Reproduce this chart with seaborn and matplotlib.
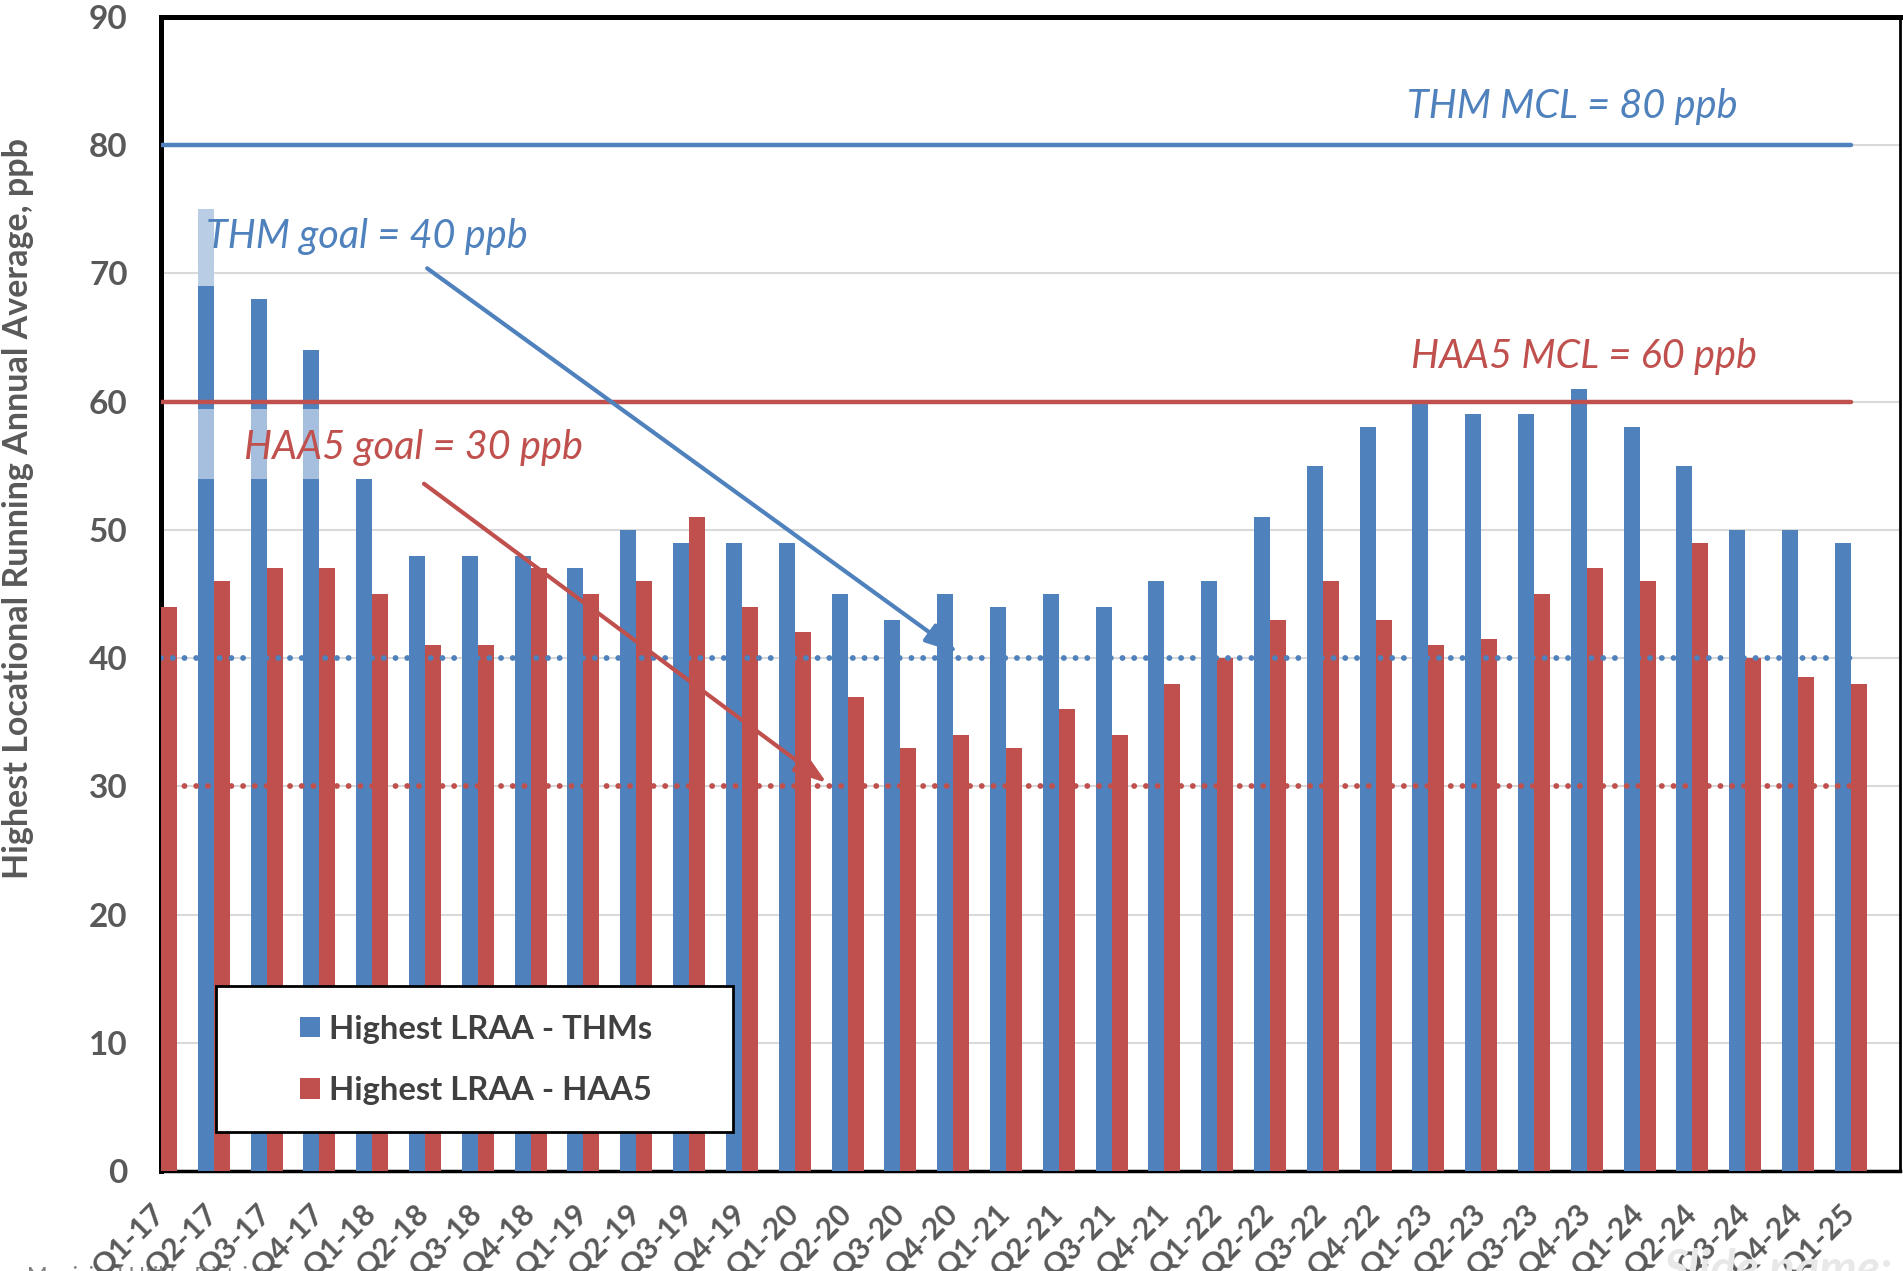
import numpy as np
import pandas as pd
import matplotlib
matplotlib.use("Agg")
import matplotlib.pyplot as plt
import seaborn as sns
from matplotlib.patches import Rectangle, Patch

# ---------------- data ----------------
quarters = ["Q1-17", "Q2-17", "Q3-17", "Q4-17",
            "Q1-18", "Q2-18", "Q3-18", "Q4-18",
            "Q1-19", "Q2-19", "Q3-19", "Q4-19",
            "Q1-20", "Q2-20", "Q3-20", "Q4-20",
            "Q1-21", "Q2-21", "Q3-21", "Q4-21",
            "Q1-22", "Q2-22", "Q3-22", "Q4-22",
            "Q1-23", "Q2-23", "Q3-23", "Q4-23",
            "Q1-24", "Q2-24", "Q3-24", "Q4-24",
            "Q1-25"]
thm = [np.nan, 69, 68, 64, 54, 48, 48, 48, 47, 50, 49, 49, 49, 45, 43, 45, 44,
       45, 44, 46, 46, 51, 55, 58, 60, 59, 59, 61, 58, 55, 50, 50, 49]
haa5 = [44, 46, 47, 47, 45, 41, 41, 47, 45, 46, 51, 44, 42, 37, 33, 34, 33,
        36, 34, 38, 40, 43, 46, 43, 41, 41.5, 45, 47, 46, 49, 40, 38.5, 38]
series_names = ["Highest LRAA - THMs", "Highest LRAA - HAA5"]

# faded (lighter) portions of THM bars seen in the original
thm_faded_top_q = ["Q2-17"]
thm_faded_top_lo = [69]
thm_faded_top_hi = [75]
thm_faded_band_q = ["Q2-17", "Q3-17", "Q4-17"]
thm_faded_band_lo = [54, 54, 54]
thm_faded_band_hi = [59.4, 59.4, 59.4]

thm_mcl, haa5_mcl = 80, 60
thm_goal, haa5_goal = 40, 30
yticks = [0, 10, 20, 30, 40, 50, 60, 70, 80, 90]

# ---------------- style ----------------
BLUE = "#4F81BD"
RED = "#C0504D"
GRAY = "#595959"
sns.set_style("white")
plt.rcParams["font.family"] = ["Lato", "DejaVu Sans"]

W, H = 1903, 1271
fig = plt.figure(figsize=(W / 100, H / 100), dpi=100)
ax = fig.add_axes([161 / W, 1 - 1171 / H, (1900 - 161) / W, (1171 - 17) / H])

df = pd.DataFrame({
    "Quarter": quarters * 2,
    "Series": [series_names[0]] * len(quarters) + [series_names[1]] * len(quarters),
    "Value": thm + haa5,
})
sns.barplot(data=df, x="Quarter", y="Value", hue="Series", order=quarters,
            hue_order=series_names, palette=[BLUE, RED], width=0.606, gap=0,
            dodge=True, saturation=1, errorbar=None, legend=False,
            linewidth=0, ax=ax, zorder=3)

# locate THM bars (blue) to overlay faded segments
blue_rgba = matplotlib.colors.to_rgba(BLUE)
blue_bars = {}
for p in ax.patches:
    if np.allclose(p.get_facecolor(), blue_rgba, atol=0.02) and p.get_height() > 0:
        idx = int(round(p.get_x() + p.get_width()))
        blue_bars[idx] = p

for q, lo, hi in zip(thm_faded_top_q, thm_faded_top_lo, thm_faded_top_hi):
    p = blue_bars[quarters.index(q)]
    ax.bar(p.get_x(), hi - lo, bottom=lo, width=p.get_width(), align="edge",
           color="#B9CDE5", linewidth=0, zorder=3)
for q, lo, hi in zip(thm_faded_band_q, thm_faded_band_lo, thm_faded_band_hi):
    p = blue_bars[quarters.index(q)]
    ax.bar(p.get_x(), hi - lo, bottom=lo, width=p.get_width(), align="edge",
           color="#A6BFDE", linewidth=0, zorder=3)

n = len(quarters)
# reference lines
ax.hlines(thm_mcl, 0, n - 1, color=BLUE, lw=3.2, zorder=5, capstyle="round")
ax.hlines(haa5_mcl, 0, n - 1, color=RED, lw=3.2, zorder=5, capstyle="round")
ax.plot([0, n - 1], [thm_goal] * 2, color=BLUE, lw=4.2, zorder=5,
        linestyle=(0, (0.01, 2.0)), dash_capstyle="round")
ax.plot([0, n - 1], [haa5_goal] * 2, color=RED, lw=4.2, zorder=5,
        linestyle=(0, (0.01, 2.0)), dash_capstyle="round")

# annotation texts
tkw = dict(style="italic", fontsize=28.5, ha="center", va="baseline", zorder=8)
ax.text(26.72, 82.1, "THM MCL = 80 ppb", color=BLUE, **tkw)
ax.text(26.95, 62.6, "HAA5 MCL = 60 ppb", color=RED, **tkw)
ax.text(3.90, 72.0, "THM goal = 40 ppb", color=BLUE, **tkw)
ax.text(4.79, 55.5, "HAA5 goal = 30 ppb", color=RED, **tkw)

# arrows
ax.annotate("", xy=(15.09, 40.4), xytext=(5.04, 70.4),
            arrowprops=dict(arrowstyle="-|>,head_length=0.9,head_width=0.3",
                            color=BLUE, lw=3.0, mutation_scale=22, shrinkA=0, shrinkB=0),
            zorder=7)
ax.annotate("", xy=(12.61, 30.25), xytext=(4.98, 53.6),
            arrowprops=dict(arrowstyle="-|>,head_length=0.9,head_width=0.3",
                            color=RED, lw=3.0, mutation_scale=22, shrinkA=0, shrinkB=0),
            zorder=7)

# axes
ax.set_xlim(0, 32.93)
ax.set_ylim(0, 90)
ax.set_yticks(yticks)
ax.yaxis.grid(True, color="#D9D9D9", lw=1.5, zorder=0)
ax.xaxis.grid(False)
ax.set_axisbelow(True)
ax.set_xlabel("")
ax.set_ylabel("")
ax.tick_params(axis="y", length=0, pad=24, labelsize=24, labelcolor=GRAY)
ax.tick_params(axis="x", length=0, pad=27, labelsize=22, labelcolor=GRAY)
for lab in ax.get_yticklabels():
    lab.set_fontweight("bold")
ax.set_xticks(range(n))
ax.set_xticklabels(quarters, rotation=45, ha="right", va="center",
                   rotation_mode="anchor", fontweight="bold", color=GRAY)
for side, lw in [("top", 3.6), ("left", 3.6), ("bottom", 2.5), ("right", 2.0)]:
    ax.spines[side].set_visible(True)
    ax.spines[side].set_color("black")
    ax.spines[side].set_linewidth(lw)

fig.text(18 / W, 1 - 509 / H, "Highest Locational Running Annual Average, ppb",
         rotation=90, ha="center", va="center", fontsize=24.5, fontweight="bold",
         color=GRAY)

# legend box + legend
box = Rectangle((0.0316, 0.0334), 0.2972, 0.1273, transform=ax.transAxes,
                facecolor="white", edgecolor="black", lw=2.0, zorder=9)
ax.add_patch(box)
handles = [Patch(facecolor=BLUE, edgecolor="none"), Patch(facecolor=RED, edgecolor="none")]
leg = ax.legend(handles, series_names, loc="center left",
                bbox_to_anchor=(0.0799, 0.0962), frameon=False, fontsize=23.6,
                handlelength=0.6, handleheight=0.6, handletextpad=0.3,
                labelspacing=1.0, borderpad=0, borderaxespad=0)
leg.set_zorder(10)
for t in leg.get_texts():
    t.set_fontweight("bold")
    t.set_color("#404040")

# cut-off footer texts from the original slide
fig.text(27 / W, 1 - 1266 / H, "Municipal Utility District", ha="left", va="top",
         fontsize=16, color="#7F7F7F")
fig.text(1663 / W, 1 - 1248 / H, "Slide name: Blank", ha="left", va="top",
         fontsize=34, fontweight="bold", style="italic", color="#E8E8E8", zorder=0)

fig.savefig("out.png", dpi=100)
